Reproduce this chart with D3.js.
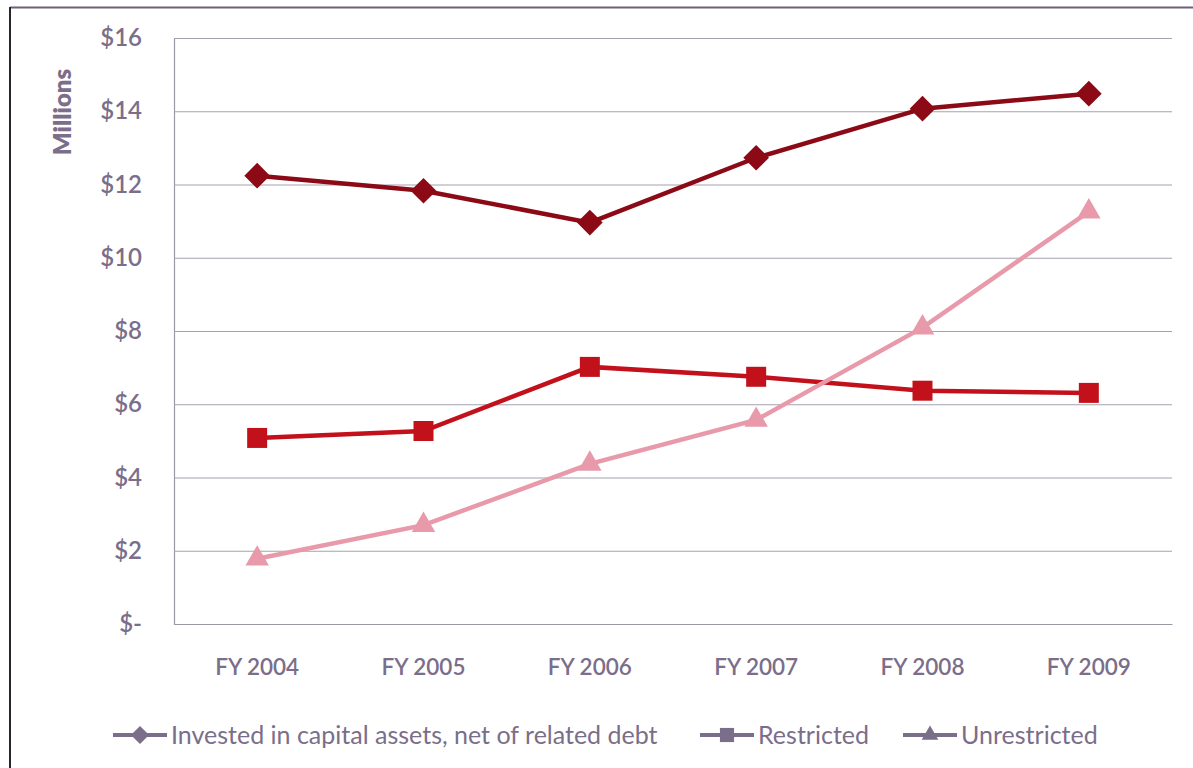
<!DOCTYPE html>
<html><head><meta charset="utf-8">
<script src="https://cdn.jsdelivr.net/npm/d3@7"></script>
<style>
body{margin:0;background:#fff;}
svg{display:block;}
text{font-family:Lato,"Open Sans",sans-serif;fill:#7b6e8a;}
</style></head>
<body>
<svg id="c" width="1193" height="768"></svg>
<script>
const categories = ["FY 2004","FY 2005","FY 2006","FY 2007","FY 2008","FY 2009"];
const invested = [12.24, 11.83, 10.96, 12.73, 14.07, 14.48];
const restricted = [5.08, 5.27, 7.02, 6.75, 6.37, 6.31];
const unrestricted = [1.78, 2.70, 4.37, 5.57, 8.09, 11.26];
const yTicks = [0,2,4,6,8,10,12,14,16];
const yTickLabels = ["$-","$2","$4","$6","$8","$10","$12","$14","$16"];
const seriesNames = ["Invested in capital assets, net of related debt","Restricted","Unrestricted"];

const svg = d3.select("#c");
const m = {left:174, right:1172, top:38, bottom:624};
const x = d3.scaleBand().domain(categories).range([m.left, m.right]);
const y = d3.scaleLinear().domain([0,16]).range([m.bottom, m.top]);

// frame
svg.append("line").attr("x1",10).attr("x2",1193).attr("y1",7.5).attr("y2",7.5).attr("stroke","#6e6078").attr("stroke-width",2);
svg.append("line").attr("x1",10).attr("x2",10).attr("y1",7).attr("y2",768).attr("stroke","#2a2430").attr("stroke-width",2);

// gridlines
const yAxis = d3.axisLeft(y).tickValues(yTicks).tickSize(-(m.right-m.left)).tickFormat((d,i)=>yTickLabels[i]);
const ga = svg.append("g").attr("transform",`translate(${m.left},0)`).call(yAxis);
ga.select(".domain").attr("stroke","#9a98a6").attr("stroke-width",1.2);
ga.selectAll(".tick line").attr("stroke","#a4a2b0").attr("stroke-width",1.2);
ga.selectAll(".tick text").attr("x",-32).attr("font-size",24).attr("font-weight",600).style("fill","#7b6e8a").attr("font-family","Lato,sans-serif");

const xAxis = d3.axisBottom(x).tickSize(0);
const gx = svg.append("g").attr("transform",`translate(0,${m.bottom})`).call(xAxis);
gx.select(".domain").attr("stroke","#9a98a6").attr("stroke-width",1.2);
gx.selectAll(".tick text").attr("dy",0).attr("y",51).attr("font-size",22.5).attr("font-weight",600).style("fill","#7b6e8a").attr("font-family","Lato,sans-serif");

svg.append("text").attr("transform","translate(71,112) rotate(-90)").attr("text-anchor","middle")
  .attr("font-size",24).attr("font-weight",800).text("Millions");

const colors = ["#8c0a16","#c3111c","#e89aab"];
const data = [invested, restricted, unrestricted];
const symbols = [d3.symbolSquare, d3.symbolSquare, d3.symbolTriangle];
const rot = [45, 0, 0];
const sizes = [330, 400, 240];
const line = d3.line().x((d,i)=>x(categories[i])+x.bandwidth()/2).y(d=>y(d));

data.forEach((vals,k)=>{
  svg.append("path").datum(vals).attr("d",line).attr("fill","none").attr("stroke",colors[k]).attr("stroke-width",4.5);
  svg.selectAll(null).data(vals).enter().append("path")
    .attr("d",d3.symbol().type(symbols[k]).size(sizes[k]))
    .attr("transform",(d,i)=>`translate(${x(categories[i])+x.bandwidth()/2},${y(d)}) rotate(${rot[k]})`)
    .attr("fill",colors[k]);
});

// legend
const legX = [113, 700, 903];
const legendColor = "#7b6e8a";
seriesNames.forEach((n,k)=>{
  const g = svg.append("g").attr("transform",`translate(${legX[k]},735)`);
  g.append("line").attr("x1",0).attr("x2",54).attr("stroke",legendColor).attr("stroke-width",4);
  g.append("path").attr("d",d3.symbol().type(symbols[k]).size(sizes[k]*0.5)).attr("transform",`translate(27,0) rotate(${rot[k]})`).attr("fill",legendColor);
  g.append("text").attr("x",58).attr("y",9).attr("font-size",25).text(n);
});
</script>
</body></html>
